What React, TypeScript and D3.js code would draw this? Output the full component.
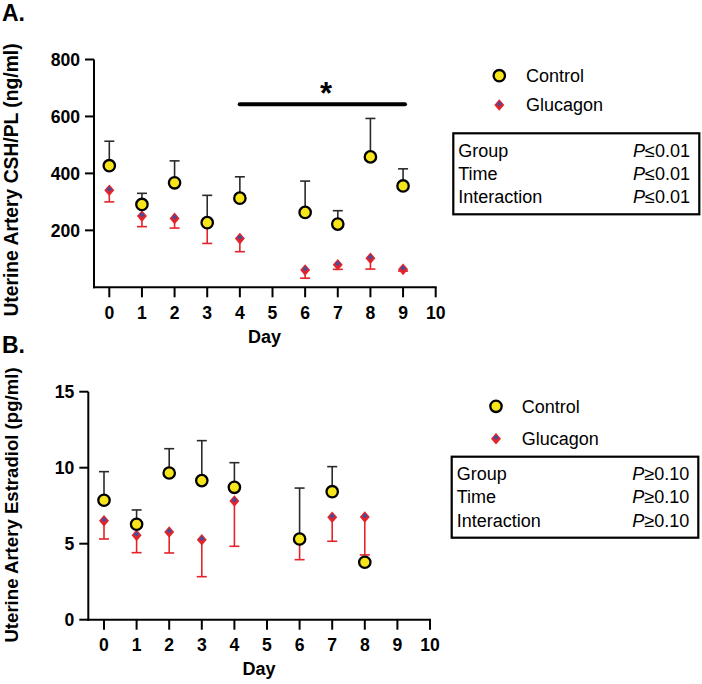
import React from "react";
import * as d3 from "d3";

// ---------- Data ----------
const daysA = [0, 1, 2, 3, 4, 6, 7, 8, 9];
const controlA = [427, 291, 367, 227, 313, 263, 222, 458, 356];
const controlAErr = [86, 39, 77, 96, 75, 110, 47, 135, 60];
const glucagonA = [341, 250, 242, 225, 171, 61, 79, 102, 63];
const glucagonAErr = [41, 37, 34, 71, 46, 29, 16, 38, 6];
const yTicksA = [200, 400, 600, 800];

const daysB = [0, 1, 2, 3, 4, 6, 7, 8];
const controlB = [7.86, 6.28, 9.65, 9.15, 8.71, 5.31, 8.42, 3.78];
const controlBErr = [1.88, 0.94, 1.6, 2.63, 1.62, 3.35, 1.65, 0];
const glucagonB = [6.51, 5.55, 5.77, 5.26, 7.81, 5.2, 6.74, 6.76];
const glucagonBErr = [1.2, 1.14, 1.38, 2.43, 2.98, 1.25, 1.58, 2.5];
const yTicksB = [0, 5, 10, 15];

const xTicks = [0, 1, 2, 3, 4, 5, 6, 7, 8, 9, 10];
const legendLabels = ["Control", "Glucagon"];
const statRows = ["Group", "Time", "Interaction"];
const statA = ["≤0.01", "≤0.01", "≤0.01"];
const statB = ["≥0.10", "≥0.10", "≥0.10"];

const FONT = "'Liberation Sans', Arial, Helvetica, sans-serif";
const YELLOW = "#f7e51c";
const RED = "#e3242b";
const BLUE = "#4d4a98";

const Diamond = ({ x, y }: { x: number; y: number }) => (
  <g transform={`translate(${x},${y})`}>
    <path d="M0,-5.8 L5,0 L0,5.8 L-5,0 Z" fill={RED} />
    <path d="M0,-4 L2.8,-0.8 L0,1.2 L-2.8,-0.8 Z" fill={BLUE} />
  </g>
);

const Circle = ({ x, y }: { x: number; y: number }) => (
  <circle cx={x} cy={y} r={5.7} fill={YELLOW} stroke="#000" strokeWidth={2.3} />
);

type PanelProps = {
  days: number[];
  control: number[];
  controlErr: number[];
  gluc: number[];
  glucErr: number[];
  yDomain: [number, number];
  yRange: [number, number];
  yTicks: number[];
  showZero: boolean;
  axisX: number;
  x0: number;
  x10: number;
  yLabel: string;
  yLabelY: number;
  yLabelSize: number;
  dayY: number;
  dayX: number;
  xLabelBase: number;
};

const Panel = (p: PanelProps) => {
  const x = d3.scaleLinear().domain([0, 10]).range([p.x0, p.x10]);
  const y = d3.scaleLinear().domain(p.yDomain).range(p.yRange);
  const yBottom = y(p.yDomain[0]);
  const yTop = y(p.yDomain[1]);
  const cap = 5;
  return (
    <g>
      {/* axes */}
      <line x1={p.axisX} x2={p.axisX} y1={yTop} y2={yBottom + 1} stroke="#000" strokeWidth={2} />
      <line x1={p.axisX - 1} x2={x(10) + 1} y1={yBottom} y2={yBottom} stroke="#000" strokeWidth={2} />
      {p.yTicks.map((t) => (
        <g key={"yt" + t}>
          <line x1={p.axisX - 9} x2={p.axisX} y1={y(t)} y2={y(t)} stroke="#000" strokeWidth={2} />
          {(t !== 0 || p.showZero) && (
            <text x={p.axisX - 14} y={y(t) + 6.3} textAnchor="end" fontFamily={FONT} fontWeight="bold" fontSize={17.6}>
              {t}
            </text>
          )}
        </g>
      ))}
      {xTicks.map((t) => (
        <g key={"xt" + t}>
          <line x1={x(t)} x2={x(t)} y1={yBottom} y2={yBottom + 10} stroke="#000" strokeWidth={2} />
          <text x={x(t)} y={p.xLabelBase} textAnchor="middle" fontFamily={FONT} fontWeight="bold" fontSize={17.6}>
            {t}
          </text>
        </g>
      ))}
      <text x={p.dayX} y={p.dayY} textAnchor="middle" fontFamily={FONT} fontWeight="bold" fontSize={18}>
        Day
      </text>
      <text
        transform={`translate(18,${p.yLabelY}) rotate(-90)`}
        textAnchor="middle"
        fontFamily={FONT}
        fontWeight="bold"
        fontSize={p.yLabelSize}
      >
        {p.yLabel}
      </text>
      {/* error bars */}
      {p.days.map((d, i) =>
        p.glucErr[i] > 0 ? (
          <g key={"ge" + i} stroke={RED} strokeWidth={1.6}>
            <line x1={x(d)} x2={x(d)} y1={y(p.gluc[i])} y2={y(p.gluc[i] - p.glucErr[i])} />
            <line x1={x(d) - cap} x2={x(d) + cap} y1={y(p.gluc[i] - p.glucErr[i])} y2={y(p.gluc[i] - p.glucErr[i])} />
          </g>
        ) : null
      )}
      {p.days.map((d, i) =>
        p.controlErr[i] > 0 ? (
          <g key={"ce" + i} stroke="#2a2a2a" strokeWidth={1.6}>
            <line x1={x(d)} x2={x(d)} y1={y(p.control[i])} y2={y(p.control[i] + p.controlErr[i])} />
            <line x1={x(d) - cap} x2={x(d) + cap} y1={y(p.control[i] + p.controlErr[i])} y2={y(p.control[i] + p.controlErr[i])} />
          </g>
        ) : null
      )}
      {p.days.map((d, i) => (
        <Diamond key={"gd" + i} x={x(d)} y={y(p.gluc[i])} />
      ))}
      {p.days.map((d, i) => (
        <Circle key={"cc" + i} x={x(d)} y={y(p.control[i])} />
      ))}
    </g>
  );
};

type LegendProps = {
  mx: number;
  tx: number;
  cy: number;
  dy: number;
  cBase: number;
  gBase: number;
  box: [number, number, number, number];
  rowBase: number[];
  rowX: number;
  pRight: number;
  pvals: string[];
};

const Legend = (l: LegendProps) => (
  <g fontFamily={FONT} fontSize={18}>
    <Circle x={l.mx} y={l.cy} />
    <text x={l.tx} y={l.cBase}>{legendLabels[0]}</text>
    <Diamond x={l.mx} y={l.dy} />
    <text x={l.tx} y={l.gBase}>{legendLabels[1]}</text>
    <rect x={l.box[0]} y={l.box[1]} width={l.box[2] - l.box[0]} height={l.box[3] - l.box[1]} fill="none" stroke="#000" strokeWidth={2.2} />
    {statRows.map((r, i) => (
      <g key={r}>
        <text x={l.rowX} y={l.rowBase[i]}>{r}</text>
        <text x={l.pRight} y={l.rowBase[i]} textAnchor="end">
          <tspan fontStyle="italic">P</tspan>
          {l.pvals[i]}
        </text>
      </g>
    ))}
  </g>
);

export default function App() {
  return (
    <svg
      width={702}
      height={684}
      style={{ position: "absolute", left: 0, top: 0, background: "#fff" }}
    >
      <rect width={702} height={684} fill="#fff" />
      <text x={2} y={21} fontFamily={FONT} fontWeight="bold" fontSize={23}>A.</text>
      <text x={2} y={353} fontFamily={FONT} fontWeight="bold" fontSize={23}>B.</text>

      <Panel
        days={daysA}
        control={controlA}
        controlErr={controlAErr}
        gluc={glucagonA}
        glucErr={glucagonAErr}
        yDomain={[0, 800]}
        yRange={[287.3, 59.5]}
        yTicks={yTicksA}
        showZero={false}
        axisX={94}
        x0={109.3}
        x10={435.7}
        yLabel="Uterine Artery CSH/PL (ng/ml)"
        yLabelY={180}
        yLabelSize={19.3}
        dayX={264.5}
        dayY={343}
        xLabelBase={318.5}
      />
      {/* significance bar */}
      <line x1={239.7} x2={405} y1={104.3} y2={104.3} stroke="#000" strokeWidth={4} strokeLinecap="round" />
      <text x={326} y={104} textAnchor="middle" fontFamily={FONT} fontWeight="bold" fontSize={31}>*</text>

      <Panel
        days={daysB}
        control={controlB}
        controlErr={controlBErr}
        gluc={glucagonB}
        glucErr={glucagonBErr}
        yDomain={[0, 15]}
        yRange={[619.7, 391.7]}
        yTicks={yTicksB}
        showZero={true}
        axisX={88.3}
        x0={104}
        x10={430}
        yLabel="Uterine Artery Estradiol (pg/ml)"
        yLabelY={505}
        yLabelSize={18.6}
        dayX={259}
        dayY={675}
        xLabelBase={650.5}
      />

      <Legend
        mx={499.3}
        tx={526}
        cy={75.7}
        dy={105}
        cBase={81.7}
        gBase={111}
        box={[453.3, 133.3, 699.3, 214.3]}
        rowBase={[156.7, 180, 202.7]}
        rowX={458.3}
        pRight={690}
        pvals={statA}
      />
      <Legend
        mx={496}
        tx={521.7}
        cy={406.3}
        dy={438.7}
        cBase={412.7}
        gBase={444.7}
        box={[451.7, 456.7, 698.3, 537.7]}
        rowBase={[480, 502.7, 526.7]}
        rowX={456.7}
        pRight={689.3}
        pvals={statB}
      />
    </svg>
  );
}
